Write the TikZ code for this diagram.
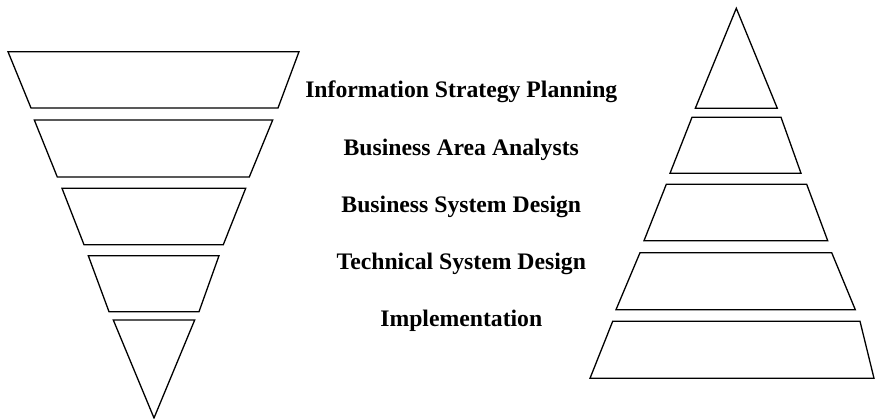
\documentclass[tikz,border=0pt]{standalone}
\usepackage{fontspec}
\setmainfont{Liberation Serif}
\begin{document}
\begin{tikzpicture}[x=1pt,y=-1pt,
  layer/.style={draw=black,line width=1.3pt,line join=miter},
  stage/.style={font=\fontsize{23.7}{26}\selectfont\bfseries,inner sep=0pt,anchor=base}]
\useasboundingbox (0,0) rectangle (875,419);
% inverted funnel on the left
\draw[layer] (8,51.7) -- (299,51.7) -- (278,108) -- (31,108) -- cycle;
\draw[layer] (34.3,120) -- (272.7,120) -- (249.3,177) -- (57.3,177) -- cycle;
\draw[layer] (62,188.3) -- (245.7,188.3) -- (223.3,244.7) -- (84,244.7) -- cycle;
\draw[layer] (88.3,255.7) -- (219,255.7) -- (199,311.7) -- (109,311.7) -- cycle;
\draw[layer] (113.3,320) -- (194.7,320) -- (154,418) -- cycle;
% pyramid on the right
\draw[layer] (736.3,8.3) -- (777.3,108.3) -- (695.3,108.3) -- cycle;
\draw[layer] (692,117.3) -- (781,117.3) -- (801,173.3) -- (670,173.3) -- cycle;
\draw[layer] (666.3,184.3) -- (806.7,184.3) -- (827.7,240.7) -- (644,240.7) -- cycle;
\draw[layer] (640,252.7) -- (831.7,252.7) -- (855.3,309.7) -- (616,309.7) -- cycle;
\draw[layer] (612.7,321.3) -- (860,321.3) -- (874,378.3) -- (590,378.3) -- cycle;
% stage labels
\node[stage] (isp) at (461.3,97.3) {Information Strategy Planning};
\node[stage] (baa) at (461.3,156) {Business Area Analysts};
\node[stage] (bsd) at (461.3,212.7) {Business System Design};
\node[stage] (tsd) at (461.3,269.3) {Technical System Design};
\node[stage] (imp) at (461.3,326.7) {Implementation};
\end{tikzpicture}
\end{document}
